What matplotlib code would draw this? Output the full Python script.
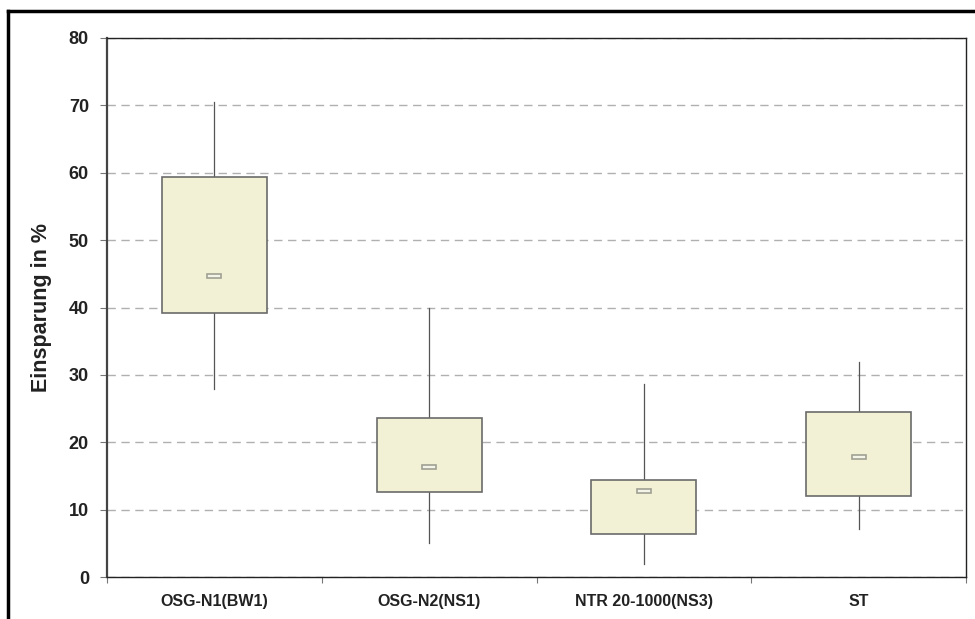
import matplotlib.pyplot as plt
from matplotlib.patches import Rectangle
from matplotlib.lines import Line2D

plt.rcParams['font.family'] = ['Liberation Sans', 'DejaVu Sans']

categories = ["OSG-N1(BW1)", "OSG-N2(NS1)", "NTR 20-1000(NS3)", "ST"]
q_low = [39.2, 12.6, 6.4, 12.0]
q_high = [59.3, 23.6, 14.4, 24.5]
whisk_low = [27.9, 5.0, 1.9, 7.1]
whisk_high = [70.5, 39.9, 28.6, 31.9]
medians = [44.7, 16.3, 12.8, 17.8]

fig = plt.figure(figsize=(9.75, 6.19), dpi=100)
ax = fig.add_axes([107 / 975, 1 - 577 / 619, (966 - 107) / 975, (577 - 38) / 619])

box_w = 0.49
med_w = 0.065
for i in range(len(categories)):
    xc = i + 0.5
    ax.plot([xc, xc], [whisk_low[i], q_low[i]], color='#555555', lw=0.9, zorder=2)
    ax.plot([xc, xc], [q_high[i], whisk_high[i]], color='#555555', lw=0.9, zorder=2)
    ax.add_patch(Rectangle((xc - box_w / 2, q_low[i]), box_w, q_high[i] - q_low[i],
                           facecolor='#F2F0D5', edgecolor='#6b6b6b', lw=1.2, zorder=3))
    ax.add_patch(Rectangle((xc - med_w / 2, medians[i] - 0.3), med_w, 0.6,
                           facecolor='#F5F4E8', edgecolor='#A0A094', lw=1.2, zorder=4))

ax.set_xlim(0, 4)
ax.set_ylim(0, 80)
ax.set_yticks(range(0, 81, 10))
ax.set_xticks(range(0, 5))
ax.set_xticklabels([])
ax.set_xticks([i + 0.5 for i in range(4)], minor=True)
ax.set_xticklabels(categories, minor=True, fontsize=11.5, fontweight='bold', color='#222222')
ax.tick_params(axis='x', which='minor', length=0, pad=12)
ax.tick_params(axis='x', which='major', length=4, color='#777777', direction='out')
ax.tick_params(axis='y', length=5, color='#777777', labelsize=13, labelcolor='#222222', pad=8)
for lab in ax.get_yticklabels():
    lab.set_fontweight('bold')

ax.yaxis.grid(True, linestyle=(0, (6, 4)), color='#b0b0b0', lw=1.0)
ax.set_axisbelow(True)
ax.spines['left'].set_linewidth(1.6)
ax.spines['left'].set_color('#444444')
for s in ['top', 'right', 'bottom']:
    ax.spines[s].set_linewidth(1.0)
    ax.spines[s].set_color('#222222')

ax.set_ylabel("Einsparung in %", fontsize=15.5, fontweight='bold', color='#222222', labelpad=12)

# Rahmen um die Grafik
fig.add_artist(Line2D([8 / 975, 8 / 975], [0, 1 - 11 / 619], color='black', lw=2.5))
fig.add_artist(Line2D([8 / 975, 1], [1 - 11 / 619, 1 - 11 / 619], color='black', lw=2.5))

fig.savefig('out.png', dpi=100)
